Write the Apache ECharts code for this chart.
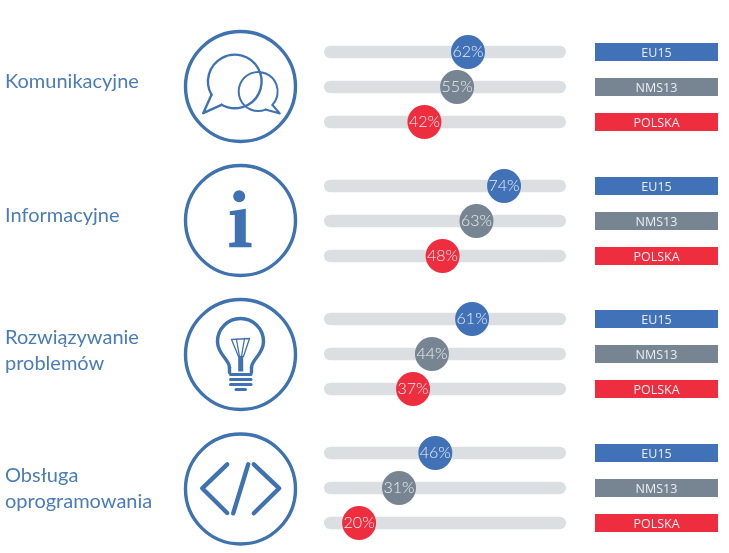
<!DOCTYPE html>
<html lang="pl">
<head>
    <meta charset="UTF-8">
    <title>Umiejętności</title>
    <style>
        html, body { margin: 0; padding: 0; background: #fff; }
        #chart { width: 729px; height: 553px; }
    </style>
</head>
<body>
<div id="chart"></div>
<script src="https://cdn.jsdelivr.net/npm/echarts@6/dist/echarts.min.js"></script>
<script type="text/javascript">
    var groups = ['Komunikacyjne', 'Informacyjne', 'Rozwiązywanie\nproblemów', 'Obsługa\noprogramowania'];
    var rows = ['EU15', 'NMS13', 'POLSKA'];
    var rowColors = ['#4172b7', '#778491', '#ee2e3e'];
    var trackMax = 100;

    // printed percentages
    var labelsEU15 = [62, 74, 61, 46];
    var labelsNMS13 = [55, 63, 44, 31];
    var labelsPolska = [42, 48, 37, 20];

    // where the dots actually sit on the 0-100 track (a few are off from their label in the original)
    var dotsEU15 = [59.5, 74.4, 61.2, 46];
    var dotsNMS13 = [55, 63, 44.6, 31];
    var dotsPolska = [41.5, 49, 36.8, 14.5];

    var labelRows = [labelsEU15, labelsNMS13, labelsPolska];
    var dotRows = [dotsEU15, dotsNMS13, dotsPolska];

    var blue = '#3f72b0';
    var font = 'Lato';
    var gridTops = [34.5, 168.5, 301.5, 435.5];
    var titleTops = [69, 203, 325, 463];
    var iconY = [86.5, 220.5, 354.5, 489];

    function stroke(w) {
        return { fill: null, stroke: blue, lineWidth: w, lineCap: 'round', lineJoin: 'round' };
    }
    function poly(points, w) {
        return { type: 'polyline', shape: { points: points }, style: stroke(w) };
    }
    function arc(cx, cy, r, from, to, w) {
        return {
            type: 'arc',
            shape: { cx: cx, cy: cy, r: r, startAngle: from * Math.PI / 180, endAngle: to * Math.PI / 180, clockwise: true },
            style: stroke(w)
        };
    }
    function curve(p, w) {
        return {
            type: 'bezierCurve',
            shape: { x1: p[0], y1: p[1], cpx1: p[2], cpy1: p[3], cpx2: p[4], cpy2: p[5], x2: p[6], y2: p[7] },
            style: stroke(w)
        };
    }
    function solid(points) {
        return { type: 'polygon', shape: { points: points }, style: { fill: blue } };
    }

    var icons = [
        [
            arc(-5.7, -5, 26.8, 150.3, 479.7, 2.4),
            poly([[-29, 8.3], [-37.3, 26.7], [-19, 18.3]], 2.4),
            arc(17.7, 5, 19.5, 67.9, 403.4, 2),
            poly([[32, 18.5], [39.3, 27], [25, 23]], 2)
        ],
        [
            { type: 'circle', shape: { cx: -1.3, cy: -24.3, r: 6 }, style: { fill: blue } },
            solid([[-10.7, -9.3], [5.3, -11.7], [5.3, 21.7], [11, 22.5], [11, 26.7], [-11.3, 26.7], [-11.3, 22.5], [-5.7, 21.7], [-5.7, -5.5], [-10.7, -5.5]])
        ],
        [
            arc(0, -13, 23, 180, 360, 3.4),
            curve([-23, -13, -23, 0, -11, 5, -11, 13], 3.4),
            curve([23, -13, 23, 0, 11, 5, 11, 13], 3.4),
            poly([[-11, 13], [-11, 18]], 3.4),
            poly([[11, 13], [11, 18]], 3.4),
            poly([[-9, -15], [9, -16], [3, 2], [-2, 2], [-9, -15]], 1.3),
            poly([[-4, -15], [-1, 2]], 1.3),
            poly([[4, -16], [1, 2]], 1.3),
            solid([[-2.3, 2], [2.7, 2], [2.7, 17], [-2.3, 17]]),
            poly([[-10, 20], [10.5, 20]], 3),
            poly([[-10, 25], [10.5, 25]], 3),
            poly([[-10, 30], [10.5, 30]], 3),
            poly([[-4.5, 35], [5, 35]], 3)
        ],
        [
            poly([[-13.3, -24.7], [-38.3, -0.7], [-13.3, 24]], 4.4),
            poly([[13.3, -24.7], [38.7, -0.7], [13.3, 24.3]], 4.4),
            poly([[7.7, -24.7], [-7.3, 24.3]], 4.4)
        ]
    ];

    function chip(i) {
        return {
            backgroundColor: rowColors[i],
            color: '#e9eef4',
            width: 123,
            height: 16,
            lineHeight: 16,
            padding: [2, 0, 0, 0],
            align: 'center',
            fontFamily: 'Open Sans',
            fontSize: 12.5
        };
    }

    var option = {
        animation: false,
        backgroundColor: '#fff',
        title: [],
        grid: [],
        xAxis: [],
        yAxis: [],
        series: [],
        graphic: { elements: [] }
    };

    groups.forEach(function (name, g) {
        option.title.push({
            text: name,
            left: 5,
            top: titleTops[g],
            padding: 0,
            textStyle: { color: '#4a7cb8', fontFamily: font, fontSize: 20, fontWeight: 'normal', lineHeight: 26 }
        });
        option.grid.push({ left: 324, width: 242, top: gridTops[g], height: 105 });
        option.xAxis.push({ gridIndex: g, type: 'value', min: 0, max: trackMax, show: false });
        option.yAxis.push({
            gridIndex: g,
            type: 'category',
            data: rows,
            inverse: true,
            position: 'right',
            axisLine: { show: false },
            axisTick: { show: false },
            splitLine: { show: false },
            axisLabel: {
                margin: 29,
                formatter: function (v) { return '{r' + rows.indexOf(v) + '|' + v + '}'; },
                rich: { r0: chip(0), r1: chip(1), r2: chip(2) }
            }
        });
        option.series.push({
            type: 'bar',
            xAxisIndex: g,
            yAxisIndex: g,
            barWidth: 12.5,
            silent: true,
            itemStyle: { color: '#dcdfe2', borderRadius: 6.25 },
            data: rows.map(function () { return trackMax; })
        });
        option.series.push({
            type: 'scatter',
            xAxisIndex: g,
            yAxisIndex: g,
            symbol: 'circle',
            symbolSize: 34,
            z: 5,
            data: rows.map(function (r, i) {
                return {
                    value: [dotRows[i][g], r],
                    itemStyle: { color: rowColors[i], opacity: 1 },
                    label: {
                        show: true,
                        position: 'inside',
                        formatter: labelRows[i][g] + '%',
                        color: '#e9eef4',
                        fontFamily: font,
                        fontWeight: 300,
                        fontSize: 16
                    }
                };
            })
        });
        option.graphic.elements.push({
            type: 'group',
            x: 240.5,
            y: iconY[g],
            children: [
                { type: 'circle', shape: { cx: 0, cy: 0, r: 55 }, style: { fill: null, stroke: blue, lineWidth: 3.4 } }
            ].concat(icons[g])
        });
    });

    var myChart = echarts.init(document.getElementById('chart'));
    myChart.setOption(option);
</script>
</body>
</html>
